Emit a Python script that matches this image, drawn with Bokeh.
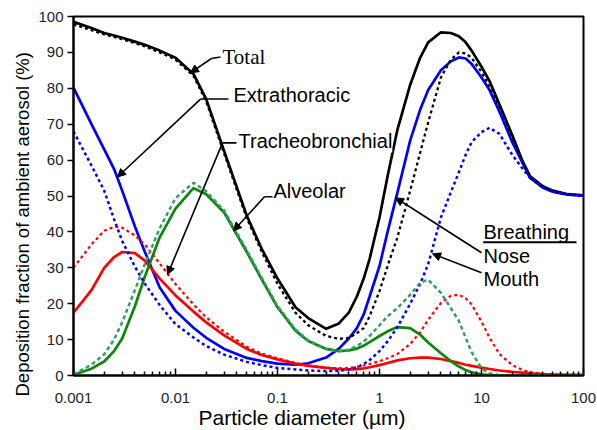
from bokeh.plotting import figure
from bokeh.models import Range1d, FixedTicker, Label, Arrow, NormalHead, Title
from bokeh.embed import file_html
from bokeh.resources import INLINE

# ---------------- data ----------------
diam = [0.001, 0.0015, 0.002, 0.0025, 0.003, 0.004, 0.005, 0.007, 0.01, 0.015,
        0.02, 0.03, 0.05, 0.07, 0.1, 0.15, 0.2, 0.3, 0.4, 0.5,
        0.6, 0.7, 0.8, 1, 1.2, 1.5, 2, 2.5, 3, 4,
        5, 6, 7, 8, 10, 12, 15, 20, 25, 30,
        40, 50, 70, 100]

total_nose = [98.5, 96.8, 95.4, 94.7, 94.1, 93.0, 92.1, 90.5, 88.5, 84.0,
              77.0, 62.5, 44.5, 35.3, 27.0, 19.0, 16.0, 13.0, 14.5, 17.5,
              22.0, 27.0, 32.5, 44.0, 55.5, 68.5, 81.0, 88.5, 92.8, 95.6,
              95.4, 94.5, 92.8, 90.5, 86.0, 82.0, 75.5, 67.0, 60.0, 55.5,
              52.7, 51.5, 50.5, 50.2]
total_mouth = [97.8, 96.2, 95.0, 94.3, 93.7, 92.6, 91.7, 90.0, 88.0, 83.5,
               76.3, 61.8, 43.8, 34.5, 25.5, 17.5, 14.0, 11.0, 10.2, 10.5,
               11.8, 13.2, 16.5, 23.5, 30.5, 38.5, 51.5, 62.0, 70.5, 83.0,
               88.0, 90.0, 89.7, 88.5, 84.5, 80.5, 75.0, 66.5, 59.5, 55.0,
               52.5, 51.3, 50.4, 50.1]
et_nose = [80.2, 70.0, 63.0, 57.5, 51.5, 41.5, 34.5, 24.5, 18.0, 13.3,
           10.5, 7.4, 4.9, 4.0, 3.3, 3.0, 3.4, 5.0, 7.5, 10.3,
           13.2, 17.0, 22.0, 30.5, 40.0, 51.0, 65.5, 74.0, 79.5, 85.0,
           87.5, 88.6, 88.3, 86.8, 83.0, 79.5, 73.5, 65.0, 59.5, 55.0,
           52.3, 51.2, 50.4, 50.1]
et_mouth = [68.0, 58.5, 51.5, 43.5, 37.5, 30.3, 25.6, 19.6, 14.3, 10.6,
            8.2, 5.8, 3.8, 2.9, 2.1, 1.7, 1.4, 1.2, 1.3, 1.7,
            2.3, 3.2, 4.3, 6.8, 9.5, 13.5, 20.0, 25.5, 31.0, 44.0,
            51.0, 56.6, 61.5, 65.0, 67.8, 69.0, 67.3, 61.5, 57.8, 55.0,
            52.5, 51.2, 50.4, 50.1]
tb_nose = [17.5, 23.8, 30.0, 33.0, 34.4, 34.1, 32.0, 27.0, 22.3, 17.8,
           14.8, 11.2, 7.4, 5.7, 4.5, 3.3, 2.7, 2.1, 1.8, 1.7,
           1.8, 2.0, 2.3, 2.9, 3.5, 4.2, 4.8, 5.0, 5.0, 4.6,
           4.0, 3.5, 3.0, 2.7, 2.2, 1.8, 1.4, 1.0, 0.8, 0.6,
           0.4, 0.3, 0.2, 0.2]
tb_mouth = [30.0, 36.5, 40.3, 41.4, 41.2, 39.0, 36.5, 31.2, 25.5, 19.8,
            16.2, 12.2, 8.0, 6.1, 4.8, 3.5, 2.8, 2.2, 2.0, 2.1,
            2.4, 2.8, 3.2, 4.0, 4.8, 6.0, 8.8, 12.0, 15.5, 20.2,
            22.2, 22.5, 21.5, 19.8, 15.0, 10.5, 6.0, 2.9, 1.6, 0.9,
            0.5, 0.3, 0.2, 0.2]
al_nose = [0.2, 1.9, 3.9, 6.8, 10.3, 19.3, 27.5, 38.5, 46.5, 52.2,
           50.5, 45.4, 34.4, 26.8, 19.0, 12.5, 9.6, 7.4, 6.8, 7.0,
           7.5, 8.3, 9.3, 11.0, 12.3, 13.5, 13.2, 11.4, 9.2, 6.2,
           4.0, 2.5, 1.5, 0.9, 0.3, 0.1, 0.0, 0.0, 0.0, 0.0,
           0.0, 0.0, 0.0, 0.0]
al_mouth = [0.3, 3.0, 5.9, 10.0, 14.8, 23.8, 31.0, 41.0, 49.4, 53.7,
            51.3, 45.9, 34.9, 27.2, 19.4, 12.8, 9.8, 7.4, 6.8, 7.2,
            8.2, 9.5, 11.0, 14.0, 16.5, 18.8, 22.5, 25.8, 26.7, 23.0,
            18.8, 15.2, 10.5, 6.5, 2.0, 0.6, 0.1, 0.0, 0.0, 0.0,
            0.0, 0.0, 0.0, 0.0]

x_ticks = [0.001, 0.01, 0.1, 1, 10, 100]
x_tick_labels = ["0.001", "0.01", "0.1", "1", "10", "100"]
y_ticks = [0, 10, 20, 30, 40, 50, 60, 70, 80, 90, 100]

# ---------------- figure ----------------
p = figure(width=597, height=430, x_axis_type="log",
           x_range=Range1d(0.001, 100), y_range=Range1d(0, 100),
           output_backend="svg", toolbar_location=None,
           min_border_left=73, min_border_right=14,
           min_border_top=16, min_border_bottom=54)
p.background_fill_color = "white"
p.border_fill_color = "white"
p.xgrid.visible = False
p.ygrid.visible = False
p.outline_line_color = "black"
p.outline_line_width = 2

minor = [k * 10.0 ** e for e in range(-3, 2) for k in range(2, 10)]
p.xaxis.ticker = FixedTicker(ticks=x_ticks, minor_ticks=minor)
p.xaxis.major_label_overrides = {t: s for t, s in zip(x_ticks, x_tick_labels)}
p.yaxis.ticker = FixedTicker(ticks=y_ticks, minor_ticks=[])

for ax in (p.xaxis[0], p.yaxis[0]):
    ax.axis_line_color = "black"
    ax.axis_line_width = 2
    ax.major_tick_line_color = "black"
    ax.minor_tick_line_color = "black"
    ax.major_tick_line_width = 1.5
    ax.minor_tick_line_width = 1.5
    ax.major_label_text_font = "Liberation Sans"
    ax.major_label_text_font_size = "15px"
    ax.major_label_text_color = "#222222"

p.xaxis.major_tick_in = 7
p.xaxis.major_tick_out = 0
p.xaxis.minor_tick_in = 4
p.xaxis.minor_tick_out = 0
p.xaxis.major_label_standoff = 17

p.yaxis.major_tick_in = 0
p.yaxis.major_tick_out = 6
p.yaxis.minor_tick_in = 0
p.yaxis.minor_tick_out = 0
p.yaxis.major_label_standoff = 4

SANS = "Liberation Sans"

# axis titles as Titles so they can be shifted like in the reference
p.add_layout(Title(text="Particle diameter (µm)", align="left", offset=125,
                   vertical_align="top", standoff=0, text_font=SANS,
                   text_font_size="21px", text_font_style="normal",
                   text_color="black"), "below")
p.add_layout(Title(text="Deposition fraction of ambient aerosol (%)", align="left",
                   offset=-21, standoff=6, text_font=SANS, text_font_size="18.5px",
                   text_font_style="normal", text_color="black"), "left")

# ---------------- curves ----------------
BLUE = "#0000ff"
RED = "#ff0000"
GREEN = "#0b870b"
TEAL = "#3a9a6c"
LW = 2.7

p.line(diam, total_nose, line_color="black", line_width=LW)
p.line(diam, et_nose, line_color=BLUE, line_width=LW)
p.line(diam, tb_nose, line_color=RED, line_width=LW)
p.line(diam, al_nose, line_color=GREEN, line_width=LW)

p.line(diam, total_mouth, line_color="black", line_width=2.3, line_dash="3 3")
p.line(diam, et_mouth, line_color=BLUE, line_width=2.5, line_dash="3 3")
p.line(diam, tb_mouth, line_color=RED, line_width=2.2, line_dash="3 3")
p.line(diam, al_mouth, line_color=TEAL, line_width=2.5, line_dash="4 3")

# ---------------- annotations ----------------


def label(x, y, text, font=SANS, size="20px", **kw):
    p.add_layout(Label(x=x, y=y, text=text, text_font=font, text_font_size=size,
                       text_color="black", text_align="left",
                       text_baseline="middle", **kw))


def pointer(x0, y0, x1, y1):
    p.add_layout(Arrow(end=NormalHead(size=8, fill_color="black", line_color="black"),
                       x_start=x0, y_start=y0, x_end=x1, y_end=y1,
                       line_color="black", line_width=1.6))


def stub(x0, y0, x1, y1):
    p.line([x0, x1], [y0, y1], line_color="black", line_width=1.6)


label(0.0289, 88.7, "Total", font="Liberation Serif", size="21px")
stub(0.0276, 88.7, 0.0225, 88.3)
pointer(0.0225, 88.3, 0.0140, 84.3)

label(0.0370, 78.2, "Extrathoracic")
stub(0.0331, 77.0, 0.0176, 77.0)
pointer(0.0176, 77.0, 0.0027, 55.3)

label(0.0415, 65.2, "Tracheobronchial", background_fill_color="white")
stub(0.0396, 64.8, 0.0289, 64.8)
pointer(0.0289, 64.8, 0.00835, 28.1)

label(0.0913, 51.5, "Alveolar")
stub(0.0893, 49.8, 0.0746, 49.8)
pointer(0.0746, 49.8, 0.0370, 40.3)

label(10.46, 39.9, "Breathing")
p.line([10.4, 85.4], [37.1, 37.1], line_color="black", line_width=2)
label(10.46, 33.4, "Nose")
label(10.46, 26.9, "Mouth")
pointer(10.0, 34.2, 1.435, 49.5)
pointer(10.0, 28.6, 3.31, 33.9)

open("out.html", "w").write(file_html(p, INLINE))
